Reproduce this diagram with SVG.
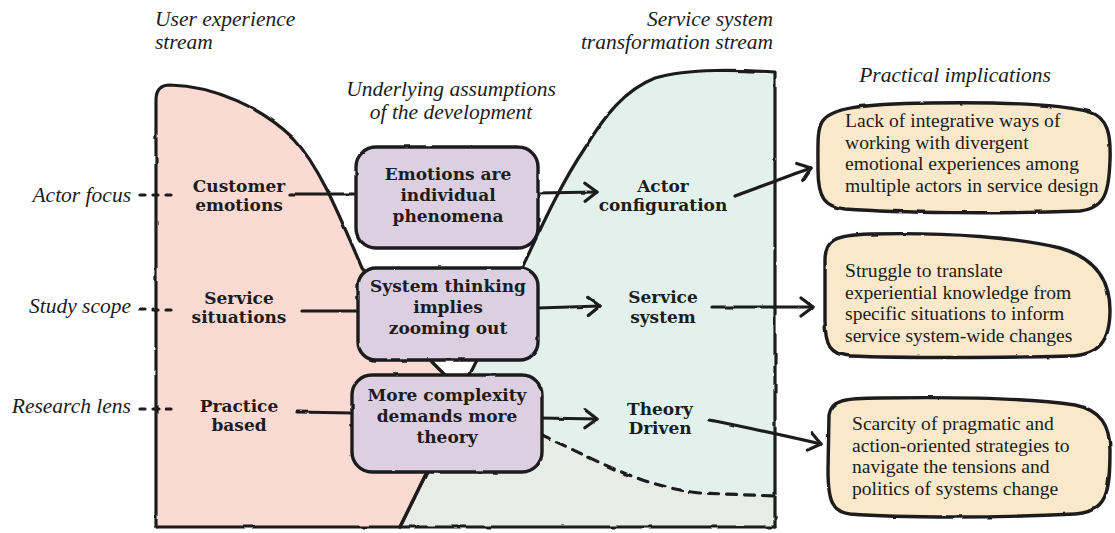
<svg xmlns="http://www.w3.org/2000/svg" width="1115" height="533" viewBox="0 0 1115 533">
  <style>
    .ink { stroke: #1c1c1c; stroke-width: 3.2; fill: none; stroke-linecap: round; stroke-linejoin: round; }
    .it { font-family: "Liberation Serif", "DejaVu Serif", serif; font-style: italic; font-size: 21.5px; fill: #1c1c1c; }
    .bd { font-family: "DejaVu Serif", "Liberation Serif", serif; font-weight: bold; font-size: 17px; fill: #1c1c1c; text-anchor: middle; }
    .rg { font-family: "Liberation Serif", "DejaVu Serif", serif; font-size: 19.6px; fill: #1c1c1c; }
    .box { fill: #dccfe2; stroke: #1c1c1c; stroke-width: 3.4; }
    .note { fill: #f9e8c9; stroke: #1c1c1c; stroke-width: 3.4; }
  </style>
  <defs>
    <filter id="rough" x="-5%" y="-5%" width="110%" height="110%">
      <feTurbulence type="fractalNoise" baseFrequency="0.06" numOctaves="2" seed="3" result="n"/>
      <feDisplacementMap in="SourceGraphic" in2="n" scale="2.2" xChannelSelector="R" yChannelSelector="G"/>
    </filter>
    <marker id="chev" viewBox="0 0 16 22" refX="14" refY="11" markerWidth="16" markerHeight="22" markerUnits="userSpaceOnUse" orient="auto">
      <path d="M2,2 L14,11 L2,20" fill="none" stroke="#1c1c1c" stroke-width="3.2" stroke-linecap="round" stroke-linejoin="round"/>
    </marker>
  </defs>

  <!-- stream areas -->
  <g id="streams">
    <path id="ux-stream" fill="#fadad2" d="M156,100 Q156,85 170,85 C215,86 262,108 293,138 C318,165 335,205 362,268 L432,362 L446,376 L440,440 L426,474 L400,527 L156,527 Z"/>
    <path id="system-stream" fill="#e3f1ed" d="M775,72 L775,527 L400,527 L426,474 L470,374 L478,358 L522,268 C540,230 560,185 585,148 C605,115 625,90 655,78 C690,68 740,70 775,72 Z"/>
    <path id="lower-zone" fill="#e8ebe6" d="M540,434 C600,462 640,486 700,493 L775,496 L775,527 L400,527 L426,474 L540,472 Z"/>
    <g filter="url(#rough)">
      <path class="ink" d="M156,527 L156,100 Q156,85 170,85 C215,86 262,108 293,138 C318,165 335,205 362,268 L432,362 L446,376 L440,440 L426,474 L400,527"/>
      <path class="ink" d="M400,527 L426,474 L470,374 L478,358 L522,268 C540,230 560,185 585,148 C605,115 625,90 655,78 C690,68 740,70 775,72 L775,527"/>
      <path class="ink" d="M156,527 L775,527"/>
      <path class="ink" stroke-dasharray="10 8" d="M540,434 C600,462 640,486 700,493 L775,496"/>
    </g>
  </g>

  <!-- section headings -->
  <g id="headings">
    <text class="it" x="155" y="26">User experience<tspan x="155" dy="23">stream</tspan></text>
    <text class="it" x="773" y="26" text-anchor="end">Service system<tspan x="773" dy="23">transformation stream</tspan></text>
    <text class="it" x="451" y="96" text-anchor="middle">Underlying assumptions<tspan x="451" dy="23">of the development</tspan></text>
    <text class="it" x="955" y="82" text-anchor="middle">Practical implications</text>
  </g>

  <!-- row labels -->
  <g id="row-labels">
    <text class="it" x="131" y="202" text-anchor="end">Actor focus</text>
    <text class="it" x="131" y="313" text-anchor="end">Study scope</text>
    <text class="it" x="131" y="413" text-anchor="end">Research lens</text>
  </g>

  <!-- connectors -->
  <g id="connectors" filter="url(#rough)">
    <path class="ink" stroke-dasharray="5 8" d="M140,195 L176,195"/>
    <path class="ink" stroke-dasharray="5 8" d="M140,310 L176,310"/>
    <path class="ink" stroke-dasharray="5 8" d="M140,409 L176,409"/>
    <path class="ink" d="M290,194 L356,194"/>
    <path class="ink" d="M538,193 L597,192" marker-end="url(#chev)"/>
    <path class="ink" d="M302,311 L358,311"/>
    <path class="ink" d="M538,308 L600,306" marker-end="url(#chev)"/>
    <path class="ink" d="M297,412 L352,413"/>
    <path class="ink" d="M540,418 L597,419" marker-end="url(#chev)"/>
    <path class="ink" d="M735,196 C760,187 788,176 811,168" marker-end="url(#chev)"/>
    <path class="ink" d="M712,307 L813,307" marker-end="url(#chev)"/>
    <path class="ink" d="M710,420 C750,428 790,437 821,444" marker-end="url(#chev)"/>
  </g>

  <!-- user experience stream items -->
  <g id="customer-emotions">
    <text class="bd" x="239" y="192">Customer<tspan x="239" dy="19">emotions</tspan></text>
  </g>
  <g id="service-situations">
    <text class="bd" x="239" y="304">Service<tspan x="239" dy="19">situations</tspan></text>
  </g>
  <g id="practice-based">
    <text class="bd" x="239" y="412">Practice<tspan x="239" dy="19">based</tspan></text>
  </g>

  <!-- assumptions -->
  <g id="assumption-emotions">
    <rect class="box" x="356" y="147" width="182" height="101" rx="20" filter="url(#rough)"/>
    <text class="bd" x="448" y="180">Emotions are<tspan x="448" dy="21">individual</tspan><tspan x="448" dy="21">phenomena</tspan></text>
  </g>
  <g id="assumption-system">
    <rect class="box" x="358" y="268" width="180" height="92" rx="18" filter="url(#rough)"/>
    <text class="bd" x="448" y="292">System thinking<tspan x="448" dy="21">implies</tspan><tspan x="448" dy="21">zooming out</tspan></text>
  </g>
  <g id="assumption-complexity">
    <rect class="box" x="352" y="375" width="190" height="97" rx="20" filter="url(#rough)"/>
    <text class="bd" x="447" y="401">More complexity<tspan x="447" dy="21">demands more</tspan><tspan x="447" dy="21">theory</tspan></text>
  </g>

  <!-- service system stream items -->
  <g id="actor-configuration">
    <text class="bd" x="663" y="192">Actor<tspan x="663" dy="19">configuration</tspan></text>
  </g>
  <g id="service-system">
    <text class="bd" x="663" y="303">Service<tspan x="663" dy="20">system</tspan></text>
  </g>
  <g id="theory-driven">
    <text class="bd" x="660" y="415">Theory<tspan x="660" dy="19">Driven</tspan></text>
  </g>

  <!-- practical implications -->
  <g id="implication-actors">
    <path class="note" filter="url(#rough)" d="M822,122 C830,108 860,104 930,103 C1000,102 1060,104 1090,112 C1108,118 1111,135 1110,160 C1109,190 1106,208 1080,211 C1000,214 900,213 845,209 C825,207 818,198 818,170 C818,145 817,130 822,122 Z"/>
    <text class="rg" x="845" y="127">Lack of integrative ways of<tspan x="845" dy="21.7">working with divergent</tspan><tspan x="845" dy="21.7">emotional experiences among</tspan><tspan x="845" dy="21.7">multiple actors in service design</tspan></text>
  </g>
  <g id="implication-scope">
    <path class="note" filter="url(#rough)" d="M825,260 C825,240 835,235 870,234 C950,232 1020,238 1060,248 C1095,258 1110,280 1110,310 C1110,340 1100,355 1070,356 C1000,358 900,358 850,356 C830,355 825,345 825,320 Z"/>
    <text class="rg" x="845" y="277">Struggle to translate<tspan x="845" dy="21.5">experiential knowledge from</tspan><tspan x="845" dy="21.5">specific situations to inform</tspan><tspan x="845" dy="21.5">service system-wide changes</tspan></text>
  </g>
  <g id="implication-lens">
    <path class="note" filter="url(#rough)" d="M829,415 C831,400 845,398 880,398 C950,397 1030,398 1075,405 C1100,410 1110,425 1110,450 C1110,490 1108,512 1075,514 C1000,518 900,518 850,514 C832,512 828,500 828,470 Z"/>
    <text class="rg" x="852" y="430">Scarcity of pragmatic and<tspan x="852" dy="21.7">action-oriented strategies to</tspan><tspan x="852" dy="21.7">navigate the tensions and</tspan><tspan x="852" dy="21.7">politics of systems change</tspan></text>
  </g>
</svg>
